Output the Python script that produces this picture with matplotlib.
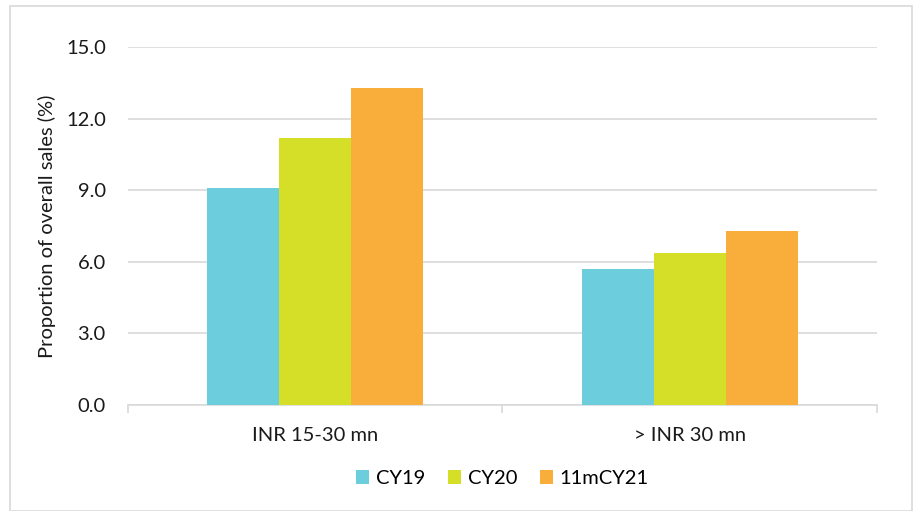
import numpy as np
import matplotlib.pyplot as plt
from matplotlib.patches import Rectangle

plt.rcParams["font.family"] = ["Lato", "DejaVu Sans"]

categories = ["INR 15-30 mn", "> INR 30 mn"]
series_names = ["CY19", "CY20", "11mCY21"]
cy19 = [9.1, 5.7]
cy20 = [11.2, 6.35]
cy21_11m = [13.3, 7.3]
colors = ["#6CCDDC", "#D6DF27", "#F9AE3B"]
yticks = [0.0, 3.0, 6.0, 9.0, 12.0, 15.0]

W, H = 920, 511
fig = plt.figure(figsize=(W / 100, H / 100), dpi=100)
ax = fig.add_axes([128 / W, 1 - 405 / H, (877 - 128) / W, (405 - 47) / H])

# chart border
fig.patches.append(
    Rectangle((10 / W, 0), (912 - 10) / W, 1 - 6 / H, transform=fig.transFigure,
              fill=False, edgecolor="#D9D9D9", linewidth=1.2)
)

x = np.arange(len(categories))
bw = 0.192
for i, (vals, name) in enumerate(zip([cy19, cy20, cy21_11m], series_names)):
    ax.bar(x + (i - 1) * bw, vals, width=bw, color=colors[i], label=name, zorder=3)

fs = 14.5
txt = "#1A1A1A"
ax.set_xlim(-0.5, 1.5)
ax.set_ylim(0, 15)
ax.set_yticks(yticks)
ax.set_yticklabels([f"{t:.1f}" for t in yticks], fontsize=fs, color=txt)
ax.set_xticks(x)
ax.set_xticklabels(categories, fontsize=fs, color=txt)
ax.set_xticks([-0.5, 0.5, 1.5], minor=True)
ax.tick_params(axis="x", which="major", length=0, pad=16)
ax.tick_params(axis="x", which="minor", length=6, color="#D9D9D9", width=1.2)
ax.tick_params(axis="y", length=0, pad=16)
ax.grid(axis="y", color="#D9D9D9", linewidth=1.2, zorder=0)
for s in ["top", "right", "left"]:
    ax.spines[s].set_visible(False)
ax.spines["bottom"].set_color("#D9D9D9")
ax.spines["bottom"].set_linewidth(1.2)
ax.set_ylabel("Proportion of overall sales (%)", fontsize=fs, color=txt, labelpad=7)

ax.legend(loc="center", bbox_to_anchor=(0.5, -0.205), ncol=3, frameon=False,
          fontsize=fs, handlelength=0.65, handleheight=0.65, columnspacing=1.1,
          handletextpad=0.35)

fig.savefig("out.png", dpi=100)
